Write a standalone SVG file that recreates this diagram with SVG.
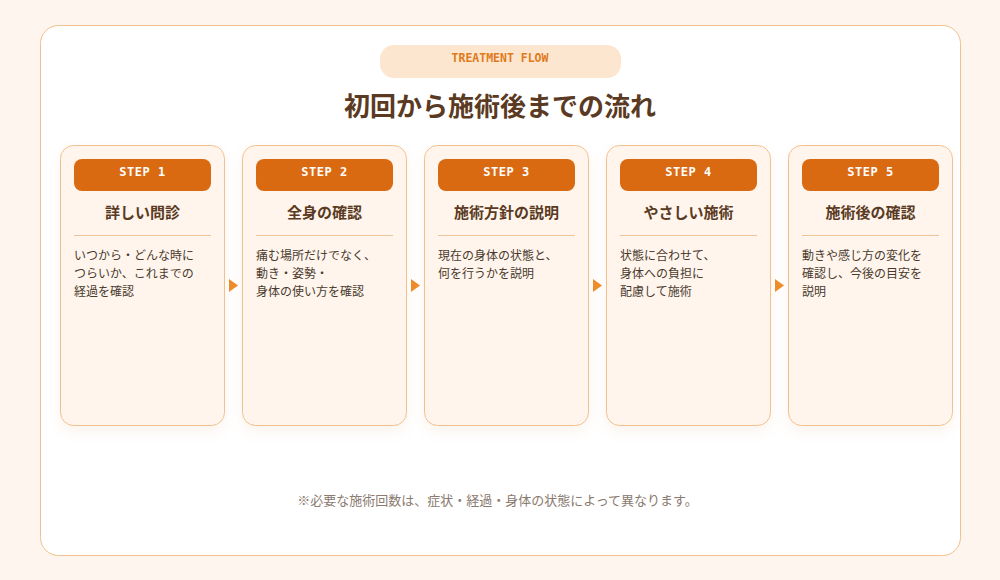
<svg xmlns="http://www.w3.org/2000/svg" width="1000" height="580" viewBox="0 0 1000 580">
<defs>
<style>
.card{fill:#fff5ec;stroke:#f2c08c;stroke-width:1}
.hdr{fill:#d96a12}
.step{font-family:"DejaVu Sans Mono","Liberation Mono",monospace;font-weight:bold;font-size:12px;fill:#ffffff;text-anchor:middle;letter-spacing:0.5px}
.ttl{font-family:"Noto Sans CJK JP","Noto Sans",sans-serif;font-weight:bold;font-size:15px;fill:#5a3a22;text-anchor:middle}
.body{font-family:"Noto Sans CJK JP","Noto Sans",sans-serif;font-size:12px;fill:#4a3a2e}
.div{stroke:#f0c49a;stroke-width:1}
.arr{fill:#ef8c2a}
</style>
<filter id="sh" x="-20%" y="-10%" width="140%" height="130%">
<feDropShadow dx="0" dy="6" stdDeviation="6" flood-color="#d9a070" flood-opacity="0.12"/>
</filter>
</defs>
<rect x="0" y="0" width="1000" height="580" fill="#fdf5ee"/>
<rect x="40.5" y="25.5" width="920" height="530" rx="18" fill="#ffffff" stroke="#f2c08c" stroke-width="1"/>
<g id="badge">
<rect x="380" y="45" width="241" height="33" rx="14" fill="#fde6cf"/>
<text x="500" y="62" font-family="DejaVu Sans Mono,Liberation Mono,monospace" font-weight="bold" font-size="11.5" fill="#e07a1a" text-anchor="middle">TREATMENT FLOW</text>
</g>
<text id="title" x="500" y="116" font-family="Noto Sans CJK JP,Noto Sans,sans-serif" font-weight="bold" font-size="26" fill="#5a3a22" text-anchor="middle">初回から施術後までの流れ</text>
<g id="step1">
<rect class="card" x="60.5" y="145.5" width="164" height="280" rx="13" filter="url(#sh)"/>
<rect class="hdr" x="74" y="159" width="137" height="32" rx="8"/>
<text class="step" x="142.5" y="176">STEP 1</text>
<text class="ttl" x="142.5" y="218">詳しい問診</text>
<line class="div" x1="74" y1="235.5" x2="211" y2="235.5"/>
<text class="body" x="74" y="260">いつから・どんな時に</text>
<text class="body" x="74" y="278">つらいか、これまでの</text>
<text class="body" x="74" y="296">経過を確認</text>
</g>
<g id="step2">
<rect class="card" x="242.5" y="145.5" width="164" height="280" rx="13" filter="url(#sh)"/>
<rect class="hdr" x="256" y="159" width="137" height="32" rx="8"/>
<text class="step" x="324.5" y="176">STEP 2</text>
<text class="ttl" x="324.5" y="218">全身の確認</text>
<line class="div" x1="256" y1="235.5" x2="393" y2="235.5"/>
<text class="body" x="256" y="260">痛む場所だけでなく、</text>
<text class="body" x="256" y="278">動き・姿勢・</text>
<text class="body" x="256" y="296">身体の使い方を確認</text>
</g>
<g id="step3">
<rect class="card" x="424.5" y="145.5" width="164" height="280" rx="13" filter="url(#sh)"/>
<rect class="hdr" x="438" y="159" width="137" height="32" rx="8"/>
<text class="step" x="506.5" y="176">STEP 3</text>
<text class="ttl" x="506.5" y="218">施術方針の説明</text>
<line class="div" x1="438" y1="235.5" x2="575" y2="235.5"/>
<text class="body" x="438" y="260">現在の身体の状態と、</text>
<text class="body" x="438" y="278">何を行うかを説明</text>
</g>
<g id="step4">
<rect class="card" x="606.5" y="145.5" width="164" height="280" rx="13" filter="url(#sh)"/>
<rect class="hdr" x="620" y="159" width="137" height="32" rx="8"/>
<text class="step" x="688.5" y="176">STEP 4</text>
<text class="ttl" x="688.5" y="218">やさしい施術</text>
<line class="div" x1="620" y1="235.5" x2="757" y2="235.5"/>
<text class="body" x="620" y="260">状態に合わせて、</text>
<text class="body" x="620" y="278">身体への負担に</text>
<text class="body" x="620" y="296">配慮して施術</text>
</g>
<g id="step5">
<rect class="card" x="788.5" y="145.5" width="164" height="280" rx="13" filter="url(#sh)"/>
<rect class="hdr" x="802" y="159" width="137" height="32" rx="8"/>
<text class="step" x="870.5" y="176">STEP 5</text>
<text class="ttl" x="870.5" y="218">施術後の確認</text>
<line class="div" x1="802" y1="235.5" x2="939" y2="235.5"/>
<text class="body" x="802" y="260">動きや感じ方の変化を</text>
<text class="body" x="802" y="278">確認し、今後の目安を</text>
<text class="body" x="802" y="296">説明</text>
</g>
<g id="connectors">
<polygon class="arr" points="229,279 238,285.5 229,292"/>
<polygon class="arr" points="411,279 420,285.5 411,292"/>
<polygon class="arr" points="593,279 602,285.5 593,292"/>
<polygon class="arr" points="775,279 784,285.5 775,292"/>
</g>
<text id="note" x="497.5" y="505" font-family="Noto Sans CJK JP,Noto Sans,sans-serif" font-size="13" fill="#8a7a70" text-anchor="middle">※必要な施術回数は、症状・経過・身体の状態によって異なります。</text>
</svg>
